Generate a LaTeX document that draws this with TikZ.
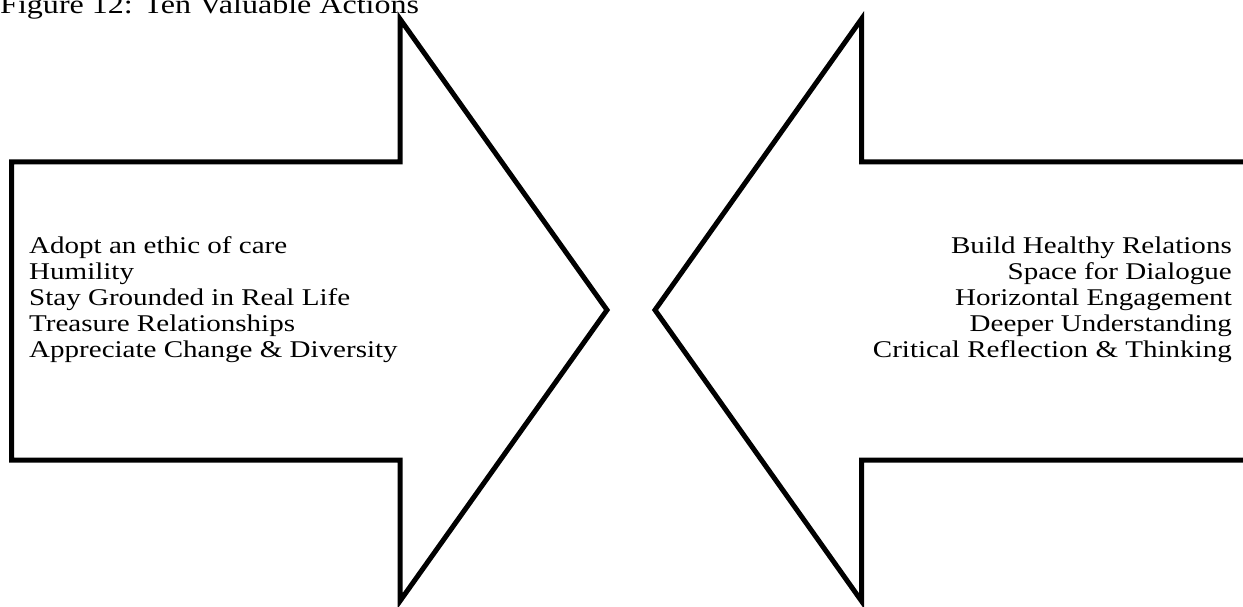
\documentclass[tikz,border=0pt]{standalone}
\usepackage{fontspec}
\setmainfont{Liberation Serif}[FakeStretch=1.21]
\begin{document}
\begin{tikzpicture}[x=1bp,y=-1bp,
  arrowline/.style={line width=5bp,line join=miter},
  item/.style={font=\fontsize{24bp}{26bp}\selectfont,inner sep=0pt}]
\useasboundingbox (0,0) rectangle (1243,607);
\clip (0,0) rectangle (1243,607);
\node[item,font=\fontsize{26.5bp}{28bp}\selectfont,anchor=base west] (title) at (0,14) {Figure 12: Ten Valuable Actions};
% left arrow
\draw[arrowline] (11.5,162) -- (400,162) -- (400,19) -- (607,310) -- (400,601) -- (400,460) -- (11.5,460) -- cycle;
% right arrow (runs off the page)
\draw[arrowline] (1250,162) -- (861.5,162) -- (861.5,19) -- (655,310) -- (861.5,601) -- (861.5,460) -- (1250,460) -- cycle;
\foreach \i/\txt in {0/Adopt an ethic of care,1/Humility,2/Stay Grounded in Real Life,3/Treasure Relationships,4/Appreciate Change \& Diversity}{
  \node[item,anchor=base west] (left\i) at (29,{254+26*\i}) {\txt};}
\foreach \i/\txt in {0/Build Healthy Relations,1/Space for Dialogue,2/Horizontal Engagement,3/Deeper Understanding,4/Critical Reflection \& Thinking}{
  \node[item,anchor=base east] (right\i) at (1232,{254+26*\i}) {\txt};}
\end{tikzpicture}
\end{document}
